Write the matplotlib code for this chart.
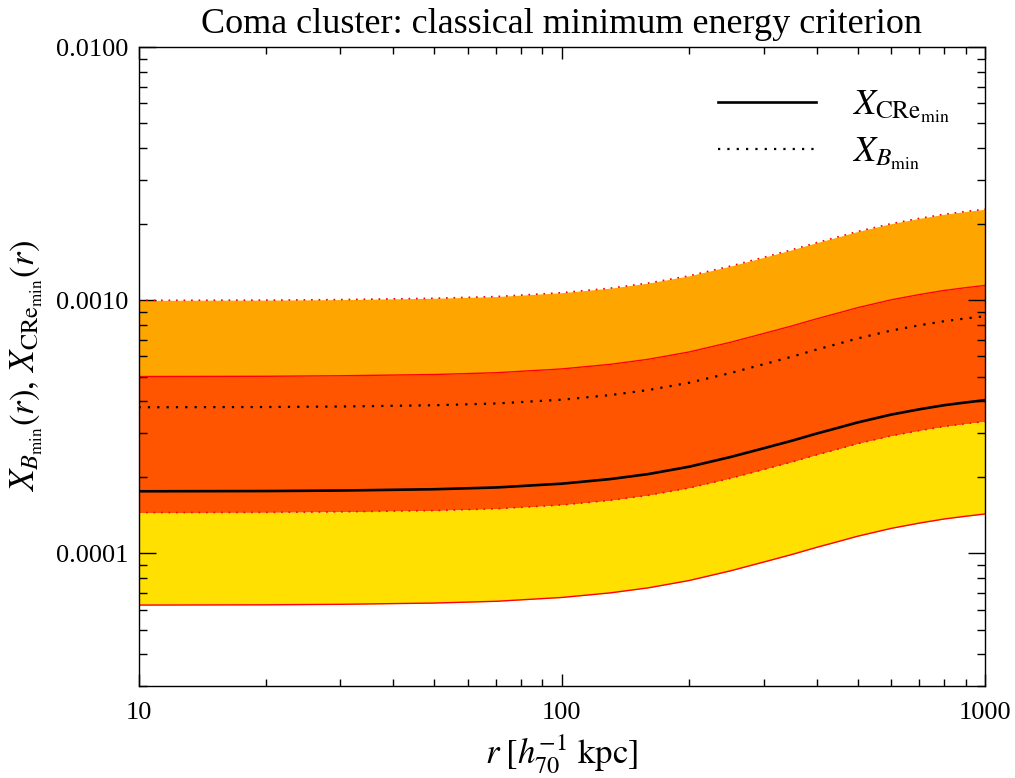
"""
Coma cluster: classical minimum energy criterion
X_B_min and X_CRe_min versus radius, with uncertainty bands
"""

import matplotlib
matplotlib.use('Agg')
import matplotlib.pyplot as plt
from matplotlib.ticker import FixedLocator, FixedFormatter, LogLocator, NullFormatter

# radius [h70^-1 kpc]
r = [10, 20, 30, 50, 70, 100, 130, 160, 200, 250, 300, 350, 400, 450, 500, 600, 700, 800, 900, 1000]

# upper edge of the X_B band (dotted red)
band_b_hi = [1.000e-3, 1.002e-3, 1.007e-3, 1.019e-3, 1.035e-3, 1.072e-3, 1.117e-3, 1.170e-3,
             1.250e-3, 1.365e-3, 1.479e-3, 1.585e-3, 1.690e-3, 1.782e-3, 1.871e-3, 2.009e-3,
             2.109e-3, 2.188e-3, 2.244e-3, 2.291e-3]
# upper edge of the X_CRe band (solid red)
band_cre_hi = [5.000e-4, 5.012e-4, 5.035e-4, 5.093e-4, 5.176e-4, 5.358e-4, 5.585e-4, 5.848e-4,
               6.252e-4, 6.823e-4, 7.396e-4, 7.925e-4, 8.452e-4, 8.912e-4, 9.354e-4, 10.046e-4,
               10.543e-4, 10.939e-4, 11.220e-4, 11.455e-4]
# X_B_min (dotted black)
x_b_min = [3.780e-4, 3.789e-4, 3.806e-4, 3.850e-4, 3.913e-4, 4.050e-4, 4.222e-4, 4.421e-4,
           4.726e-4, 5.158e-4, 5.591e-4, 5.991e-4, 6.390e-4, 6.737e-4, 7.071e-4, 7.594e-4,
           7.971e-4, 8.270e-4, 8.482e-4, 8.660e-4]
# X_CRe_min (solid black)
x_cre_min = [1.760e-4, 1.764e-4, 1.772e-4, 1.793e-4, 1.822e-4, 1.886e-4, 1.966e-4, 2.058e-4,
             2.201e-4, 2.402e-4, 2.603e-4, 2.789e-4, 2.975e-4, 3.137e-4, 3.292e-4, 3.536e-4,
             3.711e-4, 3.851e-4, 3.949e-4, 4.032e-4]
# lower edge of the X_B band (dotted red)
band_b_lo = [1.450e-4, 1.453e-4, 1.460e-4, 1.477e-4, 1.501e-4, 1.554e-4, 1.620e-4, 1.696e-4,
             1.813e-4, 1.979e-4, 2.145e-4, 2.298e-4, 2.451e-4, 2.584e-4, 2.713e-4, 2.913e-4,
             3.057e-4, 3.172e-4, 3.254e-4, 3.322e-4]
# lower edge of the X_CRe band (solid red)
band_cre_lo = [6.250e-5, 6.264e-5, 6.293e-5, 6.366e-5, 6.469e-5, 6.697e-5, 6.981e-5, 7.309e-5,
               7.814e-5, 8.529e-5, 9.244e-5, 9.906e-5, 10.565e-5, 11.140e-5, 11.692e-5, 12.557e-5,
               13.179e-5, 13.674e-5, 14.024e-5, 14.318e-5]

y_ticks = [1e-4, 1e-3, 1e-2]
y_ticklabels = ['0.0001', '0.0010', '0.0100']
x_ticks = [10, 100, 1000]
x_ticklabels = ['10', '100', '1000']

COLORS = {
    'orange': '#FFA500',
    'overlap': '#FF5500',
    'yellow': '#FFE000',
    'edge': '#FF0000',
}

plt.rcParams['font.family'] = ['Liberation Serif', 'DejaVu Serif']
plt.rcParams['mathtext.fontset'] = 'stix'

fig = plt.figure(figsize=(10.15, 7.78), dpi=100)
ax = fig.add_axes([0.1365, 0.1186, 0.8339, 0.8206])

ax.set_xscale('log')
ax.set_yscale('log')

# bands
ax.fill_between(r, band_cre_hi, band_b_hi, color=COLORS['orange'], linewidth=0)
ax.fill_between(r, band_b_lo, band_cre_hi, color=COLORS['overlap'], linewidth=0)
ax.fill_between(r, band_cre_lo, band_b_lo, color=COLORS['yellow'], linewidth=0)

# band edges
dots = (0, (1, 3.5))
ax.plot(r, band_b_hi, color=COLORS['edge'], linewidth=1.2, linestyle=dots)
ax.plot(r, band_b_lo, color=COLORS['edge'], linewidth=1.2, linestyle=dots)
ax.plot(r, band_cre_hi, color=COLORS['edge'], linewidth=1.0)
ax.plot(r, band_cre_lo, color=COLORS['edge'], linewidth=1.0)

# minimum energy curves
ax.plot(r, x_cre_min, color='black', linewidth=1.9, solid_joinstyle='round',
        label=r'$X_{\mathrm{CRe}_{\mathrm{min}}}$')
ax.plot(r, x_b_min, color='black', linewidth=1.6, linestyle=(0, (1, 3.2)),
        label=r'$X_{B_{\mathrm{min}}}$')

ax.set_xlim(10, 1000)
ax.set_ylim(3e-5, 1e-2)

ax.xaxis.set_major_locator(FixedLocator(x_ticks))
ax.xaxis.set_major_formatter(FixedFormatter(x_ticklabels))
ax.xaxis.set_minor_locator(LogLocator(base=10, subs=range(2, 10)))
ax.xaxis.set_minor_formatter(NullFormatter())
ax.yaxis.set_major_locator(FixedLocator(y_ticks))
ax.yaxis.set_major_formatter(FixedFormatter(y_ticklabels))
ax.yaxis.set_minor_locator(LogLocator(base=10, subs=range(2, 10)))
ax.yaxis.set_minor_formatter(NullFormatter())

ax.tick_params(axis='both', which='both', direction='in', top=True, right=True,
               colors='black', labelsize=19)
ax.tick_params(axis='x', which='major', length=8.6, width=1.0, pad=12)
ax.tick_params(axis='x', which='minor', length=5.0, width=1.0)
ax.tick_params(axis='y', which='major', length=12.2, width=1.0, pad=7)
ax.tick_params(axis='y', which='minor', length=5.8, width=1.0)

for spine in ax.spines.values():
    spine.set_linewidth(1.0)

ax.set_title('Coma cluster: classical minimum energy criterion', fontsize=26, pad=10)
ax.set_xlabel(r'$r\;[h_{70}^{-1}\ \mathrm{kpc}]$', fontsize=25, labelpad=6)
ax.set_ylabel(r'$X_{B_{\mathrm{min}}}(r),\, X_{\mathrm{CRe}_{\mathrm{min}}}(r)$', fontsize=25, labelpad=8)

ax.legend(loc='upper left', bbox_to_anchor=(0.685, 0.935), frameon=False, fontsize=26,
          handlelength=2.7, handletextpad=1.0, labelspacing=0.3, borderpad=0, borderaxespad=0)

fig.savefig('out.png', dpi=100, facecolor='white')
plt.close(fig)
